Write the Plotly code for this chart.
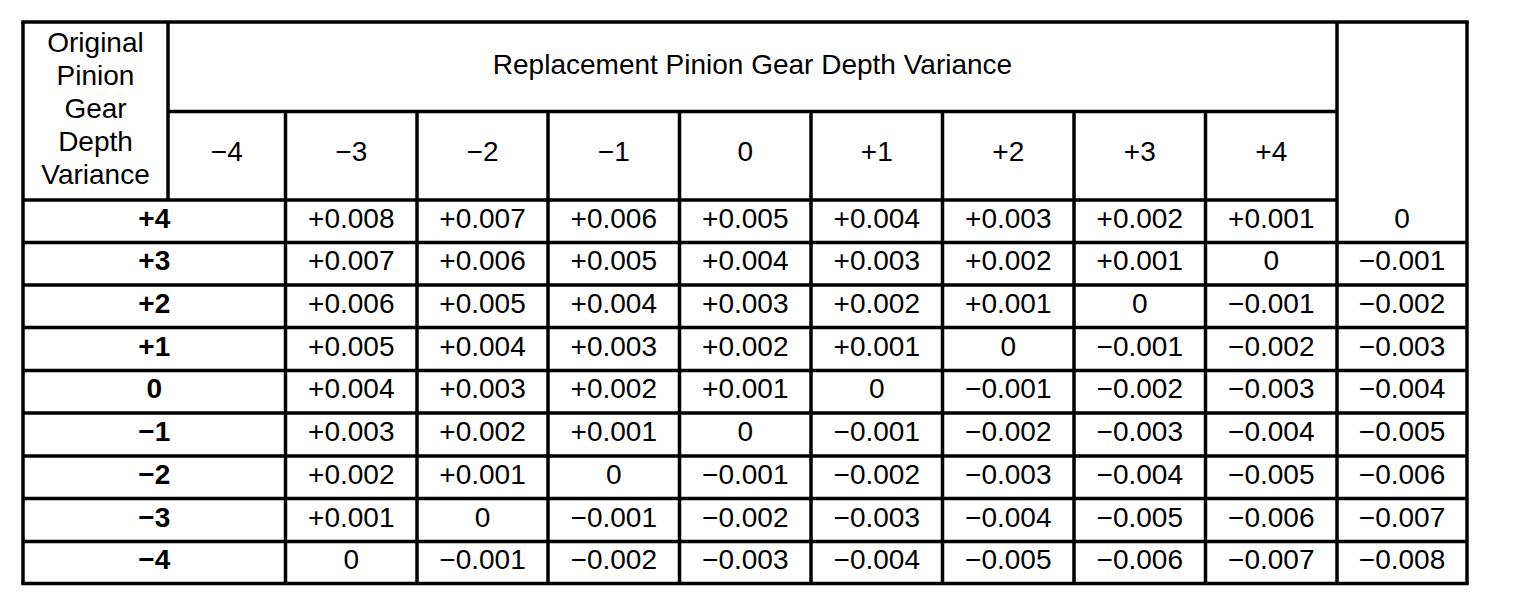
import plotly.graph_objects as go

# table content
row_header = ["Original", "Pinion", "Gear", "Depth", "Variance"]
group_title = "Replacement Pinion Gear Depth Variance"
col_labels = ["−4", "−3", "−2", "−1", "0", "+1", "+2", "+3", "+4"]
row_labels = ["+4", "+3", "+2", "+1", "0", "−1", "−2", "−3", "−4"]
values = [
    ["+0.008", "+0.007", "+0.006", "+0.005", "+0.004", "+0.003", "+0.002", "+0.001", "0"],
    ["+0.007", "+0.006", "+0.005", "+0.004", "+0.003", "+0.002", "+0.001", "0", "−0.001"],
    ["+0.006", "+0.005", "+0.004", "+0.003", "+0.002", "+0.001", "0", "−0.001", "−0.002"],
    ["+0.005", "+0.004", "+0.003", "+0.002", "+0.001", "0", "−0.001", "−0.002", "−0.003"],
    ["+0.004", "+0.003", "+0.002", "+0.001", "0", "−0.001", "−0.002", "−0.003", "−0.004"],
    ["+0.003", "+0.002", "+0.001", "0", "−0.001", "−0.002", "−0.003", "−0.004", "−0.005"],
    ["+0.002", "+0.001", "0", "−0.001", "−0.002", "−0.003", "−0.004", "−0.005", "−0.006"],
    ["+0.001", "0", "−0.001", "−0.002", "−0.003", "−0.004", "−0.005", "−0.006", "−0.007"],
    ["0", "−0.001", "−0.002", "−0.003", "−0.004", "−0.005", "−0.006", "−0.007", "−0.008"],
]

# grid geometry (page pixels)
x_edges = [23, 168, 285.5, 417, 548, 679.5, 811, 942.5, 1074, 1205.5, 1337, 1467]
y_top, y_mid, y_head = 22, 111.5, 200
y_rows = [200, 242.5, 285, 327.5, 370.5, 413, 456, 498.5, 541.5, 583.5]
FONT = "Liberation Sans, Arial, sans-serif"
SIZE = 28
LW = 3.5
TXT_UP = 0.5  # text offset from cell centre
PAGE_PAD = 8  # browser body margin

# lines
lx, ly = [], []
def seg(x0, y0, x1, y1):
    lx.extend([x0, x1, None])
    ly.extend([y0, y1, None])

left, right = x_edges[0], x_edges[-1]
seg(left - LW / 2, y_top, right + LW / 2, y_top)
seg(left - LW / 2, y_rows[-1], right + LW / 2, y_rows[-1])
seg(left, y_top, left, y_rows[-1])
seg(right, y_top, right, y_rows[-1])
seg(x_edges[1], y_top, x_edges[1], y_head)
seg(x_edges[1], y_mid, x_edges[-2], y_mid)
seg(left, y_head, x_edges[-2], y_head)
for xe in x_edges[2:-2]:
    seg(xe, y_mid, xe, y_rows[-1])
seg(x_edges[-2], y_top, x_edges[-2], y_rows[-1])
for ye in y_rows[1:-1]:
    seg(left, ye, right, ye)

# normal text
tx, ty, tt = [], [], []
line_gap = 33
mid0 = (y_top + y_head) / 2
for i, w in enumerate(row_header):
    tx.append((x_edges[0] + x_edges[1]) / 2)
    ty.append(mid0 + (i - 2) * line_gap)
    tt.append(w)
tx.append((x_edges[1] + x_edges[-2]) / 2)
ty.append((y_top + y_mid) / 2)
tt.append(group_title)
for j, c in enumerate(col_labels):
    tx.append((x_edges[j + 1] + x_edges[j + 2]) / 2)
    ty.append((y_mid + y_head) / 2 - 2)
    tt.append(c)
for i, row in enumerate(values):
    yc = (y_rows[i] + y_rows[i + 1]) / 2 - TXT_UP
    for j, v in enumerate(row):
        tx.append((x_edges[j + 2] + x_edges[j + 3]) / 2)
        ty.append(yc)
        tt.append(v)

# bold row labels
bx, by, bt = [], [], []
for i, r in enumerate(row_labels):
    bx.append((x_edges[0] + x_edges[2]) / 2)
    by.append((y_rows[i] + y_rows[i + 1]) / 2 - TXT_UP)
    bt.append("<b>" + r + "</b>")

fig = go.Figure()
fig.add_trace(go.Scatter(x=lx, y=ly, mode="lines",
                         line=dict(color="black", width=LW), hoverinfo="skip"))
fig.add_trace(go.Scatter(x=tx, y=ty, text=tt, mode="text", textposition="middle center",
                         textfont=dict(family=FONT, size=SIZE, color="black"), hoverinfo="skip"))
fig.add_trace(go.Scatter(x=bx, y=by, text=bt, mode="text", textposition="middle center",
                         textfont=dict(family=FONT, size=SIZE, color="black"), hoverinfo="skip"))

fig.update_layout(
    width=1536, height=604,
    margin=dict(l=0, r=0, t=0, b=0),
    showlegend=False,
    plot_bgcolor="white", paper_bgcolor="white",
    xaxis=dict(range=[PAGE_PAD, 1536 + PAGE_PAD], visible=False, fixedrange=True),
    yaxis=dict(range=[604 + PAGE_PAD, PAGE_PAD], visible=False, fixedrange=True),
)
fig.write_html("out.html", config={"displayModeBar": False})
